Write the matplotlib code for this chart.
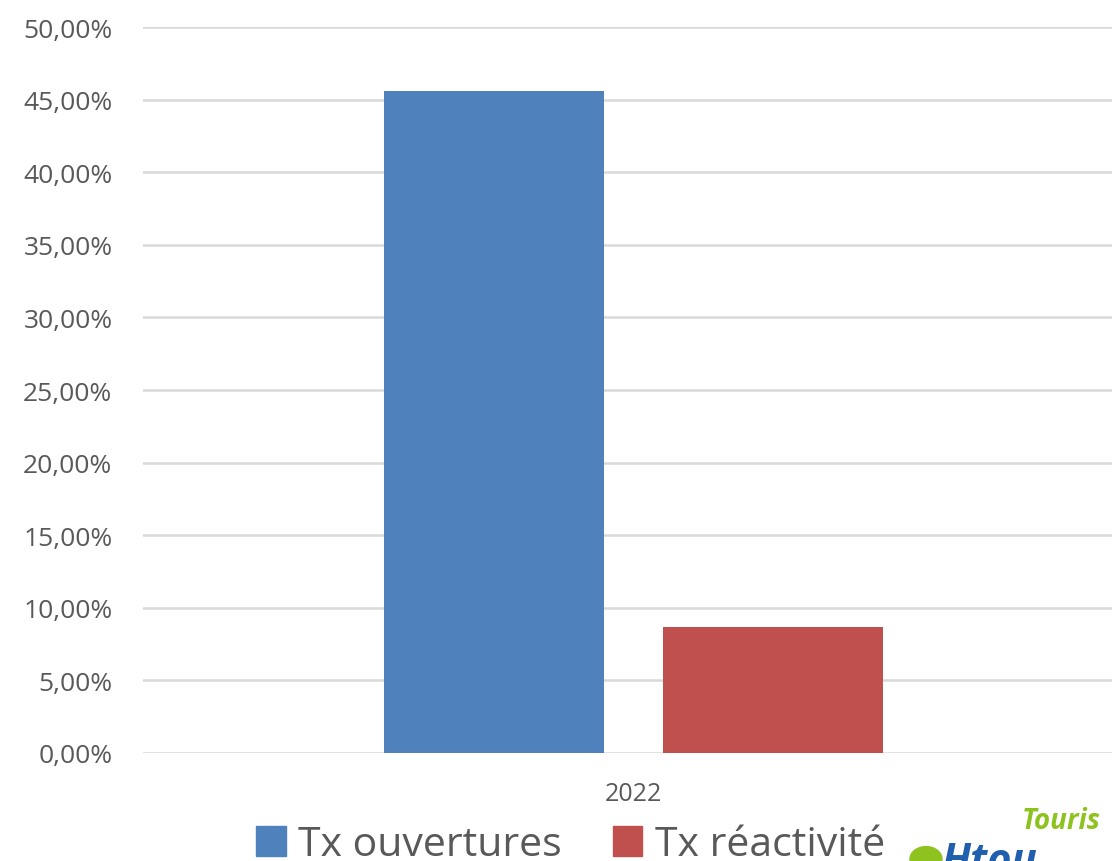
import matplotlib
matplotlib.use("Agg")
import matplotlib.pyplot as plt
from matplotlib.ticker import FuncFormatter
from matplotlib.patches import Patch, Circle

categories = ["2022"]
series_names = ["Tx ouvertures", "Tx réactivité"]
series_values = [[45.6], [8.7]]
colors = ["#4F81BD", "#C0504D"]
yticks = [0, 5, 10, 15, 20, 25, 30, 35, 40, 45, 50]

plt.rcParams['font.family'] = ['Open Sans', 'DejaVu Sans']
fig = plt.figure(figsize=(11.12, 8.62), dpi=100)
ax = fig.add_axes([143/1112, 1-754/862, 1-143/1112, (754-28)/862])

width = 1.0
offsets = [-0.634, 0.634]
for vals, off, c, name in zip(series_values, offsets, colors, series_names):
    ax.bar([i + off for i in range(len(categories))], vals, width=width, color=c, label=name, zorder=3)

ax.set_xlim(-2.2295, 2.175)
ax.set_ylim(0, 50)
ax.set_yticks(yticks)
ax.yaxis.set_major_formatter(FuncFormatter(lambda v, p: f"{v:.2f}".replace(".", ",") + "%"))
ax.set_xticks(range(len(categories)))
ax.set_xticklabels(categories)
ax.grid(axis='y', color='#d9d9d9', linewidth=1.8, zorder=0)
ax.tick_params(axis='y', length=0, labelsize=19, labelcolor='#595959', pad=22)
ax.tick_params(axis='x', length=0, labelsize=18, labelcolor='#595959', pad=20)
for s in ax.spines.values():
    s.set_visible(False)

handles = [Patch(color=c) for c in colors]
fig.legend(handles, series_names, loc='center left', bbox_to_anchor=(256/1112, 1-846/862),
           ncol=2, frameon=False, fontsize=29.5, labelcolor='#595959',
           handlelength=0.72, handleheight=0.72, handletextpad=0.3, columnspacing=1.25,
           borderaxespad=0, borderpad=0)

# partial logo at the bottom right
fig.text(1022/1112, 1-822/862, "Touris", color='#8DC21F', fontsize=20, fontweight='bold',
         fontstyle='italic', va='center', ha='left')
fig.patches.append(Circle((926/1112, 1-860/862), 16/1112, transform=fig.transFigure,
                          color='#8DC21F', clip_on=False))
fig.text(942/1112, 1-842/862, "Htou", color='#1F5FAD', fontsize=30, fontweight='bold',
         fontstyle='italic', va='top', ha='left')

fig.savefig("out.png", dpi=100)
